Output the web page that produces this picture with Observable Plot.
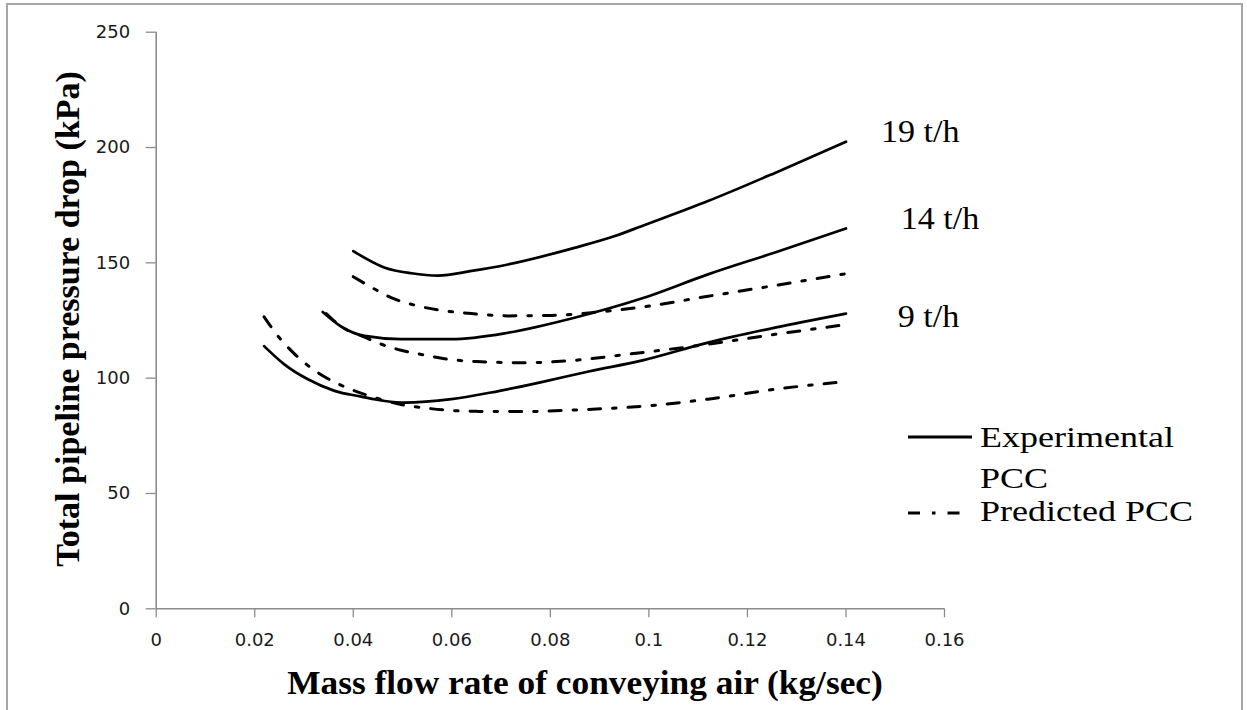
<!DOCTYPE html>
<html>
<head>
<meta charset="utf-8">
<script src="https://cdn.jsdelivr.net/npm/d3@7"></script>
<script src="https://cdn.jsdelivr.net/npm/@observablehq/plot@0.6"></script>
<style>
  html, body { margin: 0; padding: 0; background: #fff; }
  #wrap { position: relative; width: 1247px; height: 710px; overflow: hidden; background: #fff; }
  #frame { position: absolute; left: 6px; top: 3px; width: 1237px; height: 800px; box-sizing: border-box;
           border: 2px solid #a6a6a6; pointer-events: none; }
  #chart { position: absolute; left: 0; top: 0; }
</style>
</head>
<body>
<div id="wrap">
  <div id="chart"></div>
  <div id="frame"></div>
</div>
<script>
// ---- data ----
const xTicks = [0, 0.02, 0.04, 0.06, 0.08, 0.1, 0.12, 0.14, 0.16];
const xTickLabels = ["0", "0.02", "0.04", "0.06", "0.08", "0.1", "0.12", "0.14", "0.16"];
const yTicks = [0, 50, 100, 150, 200, 250];

// Experimental PCC, 19 t/h
const exp19 = [[0.0400,155.1],[0.0464,147.9],[0.0518,145.5],[0.0572,144.5],[0.0640,146.5],[0.0714,149.3],
               [0.0849,156.5],[0.0931,161.6],[0.0985,165.9],[0.1120,176.8],[0.1256,189.0],[0.1400,202.5]];
// Predicted PCC, 19 t/h
const pred19 = [[0.0400,144.0],[0.0447,138.2],[0.0477,134.9],[0.0524,131.7],[0.0572,129.6],[0.0640,128.0],
                [0.0714,127.0],[0.0802,127.2],[0.0883,128.4],[0.0985,130.8],[0.1120,135.5],[0.1256,140.2],[0.1400,145.3]];
// Experimental PCC, 14 t/h
const exp14 = [[0.0338,128.7],[0.0376,122.3],[0.0423,118.3],[0.0497,116.9],[0.0599,116.9],[0.0714,119.7],
               [0.0849,126.2],[0.0985,134.5],[0.1120,145.0],[0.1256,154.5],[0.1400,164.9]];
// Predicted PCC, 14 t/h
const pred14 = [[0.0345,128.0],[0.0376,122.3],[0.0423,117.8],[0.0457,114.7],[0.0497,112.1],[0.0538,110.3],
                [0.0582,108.5],[0.0650,107.2],[0.0748,106.7],[0.0836,107.5],[0.0958,110.4],[0.1120,114.7],
                [0.1256,119.0],[0.1400,123.2]];
// Experimental PCC, 9 t/h
const exp9 = [[0.0219,113.9],[0.0260,106.0],[0.0308,99.5],[0.0362,94.5],[0.0416,92.0],[0.0464,90.1],
              [0.0504,89.4],[0.0599,90.9],[0.0680,93.8],[0.0780,98.2],[0.0880,103.0],[0.0985,107.6],
              [0.1120,115.4],[0.1256,121.9],[0.1400,128.0]];
// Predicted PCC, 9 t/h
const pred9 = [[0.0219,126.6],[0.0250,117.5],[0.0278,111.1],[0.0309,105.3],[0.0345,100.2],[0.0382,96.3],
               [0.0423,93.0],[0.0504,88.3],[0.0545,87.1],[0.0585,86.2],[0.0650,85.6],[0.0748,85.5],
               [0.0849,86.2],[0.0998,88.0],[0.1120,90.9],[0.1256,95.2],[0.1400,98.5]];

// curve labels
const labelText = ["19 t/h", "14 t/h", "9 t/h"];
const labelX = [0.1471, 0.1511, 0.1505];
const labelY = [206.5, 169.1, 126.6];

const legendNames = ["Experimental", "PCC", "Predicted PCC"];
const xTitle = "Mass flow rate of conveying air (kg/sec)";
const yTitle = "Total pipeline pressure drop (kPa)";

// ---- build tables ----
const seriesDefs = [
  {name: "exp19", kind: "Experimental", pts: exp19},
  {name: "pred19", kind: "Predicted", pts: pred19},
  {name: "exp14", kind: "Experimental", pts: exp14},
  {name: "pred14", kind: "Predicted", pts: pred14},
  {name: "exp9", kind: "Experimental", pts: exp9},
  {name: "pred9", kind: "Predicted", pts: pred9}
];
const rows = seriesDefs.flatMap(s => s.pts.map(([x, y]) => ({series: s.name, kind: s.kind, x, y})));
const expRows = rows.filter(d => d.kind === "Experimental");
const predRows = rows.filter(d => d.kind === "Predicted");
const labels = labelText.map((t, i) => ({t, x: labelX[i], y: labelY[i]}));

const DASH = "12,12,3.5,12";
const axisGrey = "#8c8c8c";
const tickText = "#1a1a1a";

const chart = Plot.plot({
  width: 1247,
  height: 710,
  marginLeft: 155.7,
  marginRight: 303,
  marginTop: 31.7,
  marginBottom: 101.7,
  style: {fontFamily: "'DejaVu Sans', sans-serif", fontSize: "18px", background: "transparent", overflow: "visible"},
  x: {domain: [0, 0.16]},
  y: {domain: [0, 250]},
  marks: [
    Plot.axisX({ticks: xTicks, tickFormat: (d) => xTickLabels[xTicks.indexOf(d)], tickSize: 9, tickPadding: 15,
                stroke: axisGrey, fill: tickText, strokeWidth: 1.3, label: null, fontSize: 18}),
    Plot.axisY({ticks: yTicks, tickSize: 10, tickPadding: 16, stroke: axisGrey, fill: tickText,
                strokeWidth: 1.3, label: null, fontSize: 18}),
    Plot.ruleX([0], {stroke: axisGrey, strokeWidth: 1.6}),
    Plot.ruleY([0], {stroke: axisGrey, strokeWidth: 1.6}),
    Plot.line(predRows, {x: "x", y: "y", z: "series", stroke: "#000", strokeWidth: 3,
                         strokeDasharray: DASH, curve: "monotone-x"}),
    Plot.line(expRows, {x: "x", y: "y", z: "series", stroke: "#000", strokeWidth: 2.7, curve: "monotone-x"}),
    Plot.text(labels, {x: "x", y: "y", text: "t", textAnchor: "start", fill: "#000",
                       fontFamily: "'Liberation Serif', 'Times New Roman', serif", fontSize: 31})
  ]
});

document.getElementById("chart").appendChild(chart);

const svg = d3.select(chart);
const serif = "'Liberation Serif', 'Times New Roman', serif";

function stretch(sel, k) {
  sel.each(function () {
    const w = this.getComputedTextLength();
    this.setAttribute("textLength", (w * k).toFixed(1));
    this.setAttribute("lengthAdjust", "spacingAndGlyphs");
  });
}

// axis titles
const xt = svg.append("text")
  .attr("x", 585).attr("y", 693.5)
  .attr("text-anchor", "middle")
  .attr("font-family", serif).attr("font-weight", "bold").attr("font-size", 33)
  .attr("fill", "#000").text(xTitle);

const yt = svg.append("text")
  .attr("transform", "translate(79,319) rotate(-90)")
  .attr("text-anchor", "middle")
  .attr("font-family", serif).attr("font-weight", "bold").attr("font-size", 34)
  .attr("fill", "#000").text(yTitle);

// legend
const lg = svg.append("g").attr("text-anchor", "start");
lg.append("line").attr("x1", 908).attr("x2", 972).attr("y1", 437).attr("y2", 437)
  .attr("stroke", "#000").attr("stroke-width", 3);
lg.append("line").attr("x1", 908).attr("x2", 964).attr("y1", 513).attr("y2", 513)
  .attr("stroke", "#000").attr("stroke-width", 3.2).attr("stroke-dasharray", DASH);
const legendY = [447, 487.5, 521];
const lt = lg.selectAll("text.leg").data(legendNames).join("text")
  .attr("class", "leg")
  .attr("x", 980).attr("y", (d, i) => legendY[i])
  .attr("text-anchor", "start")
  .attr("font-family", serif).attr("font-size", 30).attr("fill", "#000")
  .text(d => d);

stretch(lt, 1.2);
stretch(svg.selectAll('g[aria-label="text"] text'), 1.1);
stretch(xt, 1.07);
</script>
</body>
</html>
